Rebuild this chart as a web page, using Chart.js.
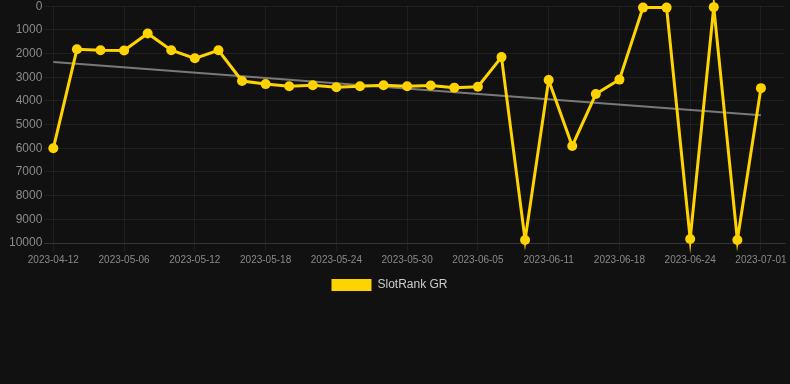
<!DOCTYPE html>
<html>
<head>
<meta charset="utf-8">
<script src="https://cdn.jsdelivr.net/npm/chart.js@4/dist/chart.umd.min.js"></script>
<style>
  html, body { margin: 0; padding: 0; background: #111111; overflow: hidden; }
  #wrap { position: relative; top: -3px; width: 790px; height: 304px; }
</style>
</head>
<body>
<div id="wrap"><canvas id="c"></canvas></div>
<script>
const dates = [
  '2023-04-12','2023-05-02','2023-05-04','2023-05-06','2023-05-08','2023-05-10',
  '2023-05-12','2023-05-14','2023-05-16','2023-05-18','2023-05-20','2023-05-22',
  '2023-05-24','2023-05-26','2023-05-28','2023-05-30','2023-06-01','2023-06-03',
  '2023-06-05','2023-06-07','2023-06-09','2023-06-11','2023-06-13','2023-06-16',
  '2023-06-18','2023-06-20','2023-06-22','2023-06-24','2023-06-26','2023-06-29',
  '2023-07-01'
];
const ranks = [
  6000, 1820, 1860, 1870, 1150, 1860, 2200, 1860, 3160, 3290, 3380,
  3340, 3420, 3380, 3340, 3380, 3350, 3440, 3400, 2150, 9870, 3120,
  5900, 3710, 3100, 60, 60, 9830, 40, 9870, 3460
];
const trendEnds = [2360, 4600];
const shownTickEvery = 3;

const rankPoints = ranks.map((v, i) => ({ x: i, y: v }));
const trendPoints = [
  { x: 0, y: trendEnds[0] },
  { x: dates.length - 1, y: trendEnds[1] }
];

const legendShift = {
  id: 'legendShift',
  afterLayout(chart) {
    if (chart.legend) { chart.legend.left -= 9; chart.legend.right -= 9; }
  }
};

new Chart(document.getElementById('c'), {
  type: 'line',
  plugins: [legendShift],
  data: {
    datasets: [
      {
        label: 'SlotRank GR',
        data: rankPoints,
        borderColor: '#FFD300',
        backgroundColor: '#FFD300',
        borderWidth: 3,
        pointRadius: 5,
        pointHoverRadius: 5,
        pointBackgroundColor: '#FFD300',
        pointBorderWidth: 0,
        tension: 0,
        clip: false,
        order: 1
      },
      {
        label: 'trend',
        data: trendPoints,
        borderColor: 'rgba(140,140,140,0.85)',
        backgroundColor: 'rgba(140,140,140,0.85)',
        borderWidth: 2,
        pointRadius: 0,
        tension: 0,
        order: 2
      }
    ]
  },
  options: {
    responsive: true,
    maintainAspectRatio: false,
    animation: false,
    layout: { padding: { left: 7, right: 0, top: 0, bottom: 0 } },
    scales: {
      x: {
        type: 'linear',
        min: -0.38,
        max: 31.02,
        afterBuildTicks: (axis) => {
          axis.ticks = dates.map((d, i) => ({ value: i })).filter(t => t.value % shownTickEvery === 0);
        },
        ticks: {
          autoSkip: false,
          maxRotation: 0,
          color: '#8a8a8a',
          font: { family: 'Liberation Sans, Arial, sans-serif', size: 10 },
          callback: (v) => dates[v] || ''
        },
        grid: { color: 'rgba(255,255,255,0.06)', tickLength: 8 },
        border: { color: 'rgba(255,255,255,0.1)' }
      },
      y: {
        reverse: true,
        min: 0,
        max: 10000,
        ticks: {
          stepSize: 1000,
          color: '#8a8a8a',
          padding: 2,
          font: { family: 'Liberation Sans, Arial, sans-serif', size: 12 },
          callback: (v) => String(v)
        },
        grid: { color: 'rgba(255,255,255,0.06)', drawTicks: false },
        border: { display: false }
      }
    },
    plugins: {
      legend: {
        position: 'bottom',
        labels: {
          color: '#cccccc',
          boxWidth: 40,
          boxHeight: 12,
          font: { family: 'Liberation Sans, Arial, sans-serif', size: 12 },
          filter: (item) => item.text !== 'trend',
          generateLabels: (chart) => Chart.defaults.plugins.legend.labels.generateLabels(chart)
            .map(l => Object.assign(l, { lineWidth: 0 }))
        }
      },
      tooltip: { enabled: false }
    }
  }
});
</script>
</body>
</html>
